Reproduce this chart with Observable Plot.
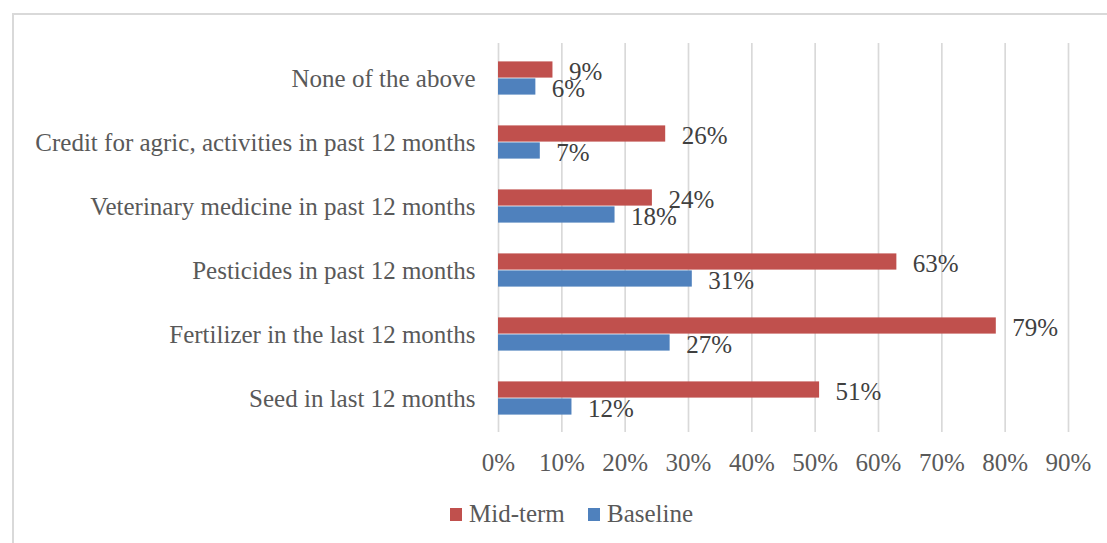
<!DOCTYPE html>
<html>
<head>
<meta charset="utf-8">
<script src="https://cdn.jsdelivr.net/npm/d3@7"></script>
<script src="https://cdn.jsdelivr.net/npm/@observablehq/plot@0.6"></script>
<style>
  html, body { margin: 0; padding: 0; background: #fff; overflow: hidden; }
  #wrap { position: relative; width: 1107px; height: 543px; overflow: hidden; }
  #frame { position: absolute; left: 12px; top: 13px; width: 1200px; height: 700px;
           border: 2px solid #d9d9d9; box-sizing: border-box; }
  #chart { position: absolute; left: 0; top: 0; }
  #legend { position: absolute; left: 0; top: 500px; width: 1107px; display: flex; justify-content: flex-start;
            font-family: "Liberation Serif", serif; font-size: 25px; color: #595959; }
  .item { display: flex; align-items: center; position: absolute; top: 0; }
  .sw { width: 12px; height: 13px; margin-right: 7px; }
</style>
</head>
<body>
<div id="wrap">
  <div id="frame"></div>
  <div id="chart"></div>
  <div id="legend"></div>
</div>
<script>
const categories = [
  "None of the above",
  "Credit for agric, activities in past 12 months",
  "Veterinary medicine in past 12 months",
  "Pesticides in past 12 months",
  "Fertilizer in the last 12 months",
  "Seed in last 12 months"
];
const midterm  = [0.086, 0.264, 0.243, 0.629, 0.786, 0.507];
const baseline = [0.059, 0.066, 0.184, 0.306, 0.271, 0.116];
const seriesNames = ["Mid-term", "Baseline"];
const seriesColors = ["#C0504D", "#4F81BD"];
const xTicks = [0, 0.1, 0.2, 0.3, 0.4, 0.5, 0.6, 0.7, 0.8, 0.9];

const rowsMid = categories.map((c, i) => ({category: c, value: midterm[i]}));
const rowsBase = categories.map((c, i) => ({category: c, value: baseline[i]}));
const pct = d3.format(".0%");

const chart = Plot.plot({
  width: 1107,
  height: 495,
  marginTop: 43,
  marginBottom: 63,
  marginLeft: 498,
  marginRight: 39,
  style: { fontFamily: "Liberation Serif, serif", fontSize: "25px", color: "#595959", background: "transparent" },
  x: { domain: [0, 0.9], ticks: xTicks, tickFormat: pct, label: null },
  y: { domain: categories, padding: 0, label: null },
  marks: [
    Plot.gridX(xTicks, { stroke: "#d9d9d9", strokeWidth: 1.7, strokeOpacity: 1 }),
    Plot.barX(rowsMid, { x: "value", y: "category", fill: seriesColors[0], insetTop: 15.4, insetBottom: 32.4 }),
    Plot.barX(rowsBase, { x: "value", y: "category", fill: seriesColors[1], insetTop: 32.4, insetBottom: 15.4 }),
    Plot.text(rowsMid, { x: "value", y: "category", text: d => pct(d.value), dx: 16, dy: -6.5,
      textAnchor: "start", fill: "#404040", fontSize: 25 }),
    Plot.text(rowsBase, { x: "value", y: "category", text: d => pct(d.value), dx: 16, dy: 10.5,
      textAnchor: "start", fill: "#404040", fontSize: 25 }),
    Plot.axisX({ ticks: xTicks, tickFormat: pct, tickSize: 0, tickPadding: 21, label: null, fill: "#595959" }),
    Plot.axisY({ tickSize: 0, tickPadding: 23, label: null, fill: "#595959" })
  ]
});
document.getElementById("chart").appendChild(chart);

const legend = document.getElementById("legend");
const lefts = [450, 588];
seriesNames.forEach((name, i) => {
  const item = document.createElement("div");
  item.className = "item";
  item.style.left = lefts[i] + "px";
  const sw = document.createElement("span");
  sw.className = "sw";
  sw.style.background = seriesColors[i];
  const t = document.createElement("span");
  t.textContent = name;
  item.appendChild(sw);
  item.appendChild(t);
  legend.appendChild(item);
});
</script>
</body>
</html>
